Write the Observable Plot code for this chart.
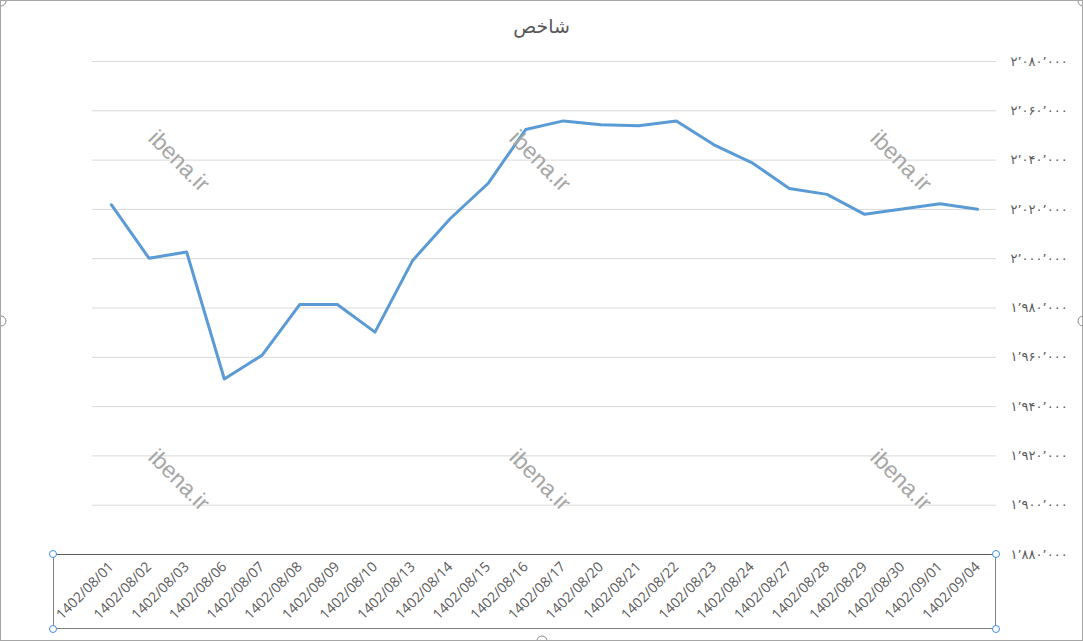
<!DOCTYPE html>
<html>
<head>
<meta charset="utf-8">
<script src="https://cdn.jsdelivr.net/npm/d3@7"></script>
<script src="https://cdn.jsdelivr.net/npm/@observablehq/plot@0.6"></script>
<style>
  html, body { margin: 0; padding: 0; background: #fff; }
  #wrap { position: relative; width: 1083px; height: 641px; box-sizing: border-box; border: 1px solid #a6a6a6; overflow: hidden; font-family: "Open Sans", "DejaVu Sans", sans-serif; }
  #title { height: 45px; line-height: 50px; text-align: center; font-size: 19px; color: #595959; font-family: "DejaVu Sans", "Noto Sans", sans-serif; }
  #chart { position: absolute; left: 0; top: 45px; }
  .wm { position: absolute; font-family: "Liberation Sans", Arial, sans-serif; font-size: 23px; color: #a6a6a6; transform: translate(-50%, -50%) rotate(45deg); white-space: nowrap; }
  #axisbox { position: absolute; left: 52px; top: 553px; width: 943px; height: 75px; border: 1px solid #7f7f7f; border-top-color: #595959; box-sizing: border-box; pointer-events: none; }
  .h { position: absolute; width: 6px; height: 6px; border: 1px solid #3d8ee5; border-radius: 50%; background: #fff; transform: translate(-50%, -50%); }
  .g { position: absolute; width: 9px; height: 9px; border: 1px solid #8c8c8c; border-radius: 50%; background: #fff; transform: translate(-50%, -50%); }
</style>
</head>
<body>
<div id="wrap">
  <div id="title">شاخص</div>
  <div id="chart"></div>
</div>
<script>
const dates = ["1402/08/01","1402/08/02","1402/08/03","1402/08/06","1402/08/07","1402/08/08","1402/08/09","1402/08/10","1402/08/13","1402/08/14","1402/08/15","1402/08/16","1402/08/17","1402/08/20","1402/08/21","1402/08/22","1402/08/23","1402/08/24","1402/08/27","1402/08/28","1402/08/29","1402/08/30","1402/09/01","1402/09/04"];
const values = [2021900,2000200,2002700,1951200,1960800,1981400,1981400,1970200,1999300,2016300,2030500,2052400,2055900,2054300,2053900,2055900,2046200,2039000,2028500,2026100,2018000,2020200,2022300,2020100];
const yTicks = [1880000,1900000,1920000,1940000,1960000,1980000,2000000,2020000,2040000,2060000,2080000];
const watermark = "ibena.ir";

const faDigits = "۰۱۲۳۴۵۶۷۸۹";
const faFormat = v => d3.format(",")(v).replace(/[0-9]/g, d => faDigits[+d]).replace(/,/g, "٬");

const data = dates.map((d, i) => ({date: d, value: values[i]}));

const chart = Plot.plot({
  width: 1081,
  height: 594,
  marginLeft: 91,
  marginRight: 86,
  marginTop: 15,
  marginBottom: 86,
  style: {fontFamily: "'Open Sans', 'DejaVu Sans', sans-serif", fontSize: "13px", color: "#595959", background: "#fff"},
  x: {type: "point", domain: dates, padding: 0.5, round: false},
  y: {domain: [1880000, 2080000]},
  marks: [
    Plot.gridY(yTicks, {stroke: "#d9d9d9", strokeOpacity: 1}),
    Plot.axisY(yTicks, {anchor: "right", tickSize: 0, tickPadding: 14, tickFormat: faFormat, fill: "#595959", fontSize: 13, textAnchor: "start", label: null}),
    Plot.axisX({tickSize: 0, tickRotate: -45, tickPadding: 10, fill: "#595959", fontSize: 14, label: null}),
    Plot.line(data, {x: "date", y: "value", stroke: "#5b9bd5", strokeWidth: 3, strokeLinejoin: "round", strokeLinecap: "round"})
  ]
});
document.getElementById("chart").appendChild(chart);

const wrap = document.getElementById("wrap");
const wmPos = [[178,160],[539,160],[900,160],[178,479],[539,479],[900,479]];
for (const [x, y] of wmPos) {
  const d = document.createElement("div");
  d.className = "wm"; d.textContent = watermark;
  d.style.left = x + "px"; d.style.top = y + "px";
  wrap.appendChild(d);
}
const box = document.createElement("div"); box.id = "axisbox"; wrap.appendChild(box);
for (const [x, y] of [[52,553],[995,553],[52,628],[995,628]]) {
  const h = document.createElement("div"); h.className = "h";
  h.style.left = x + "px"; h.style.top = y + "px"; wrap.appendChild(h);
}
for (const [x, y] of [[0,320],[1082,320],[541,640],[0,0],[1082,0]]) {
  const g = document.createElement("div"); g.className = "g";
  g.style.left = x + "px"; g.style.top = y + "px"; wrap.appendChild(g);
}
</script>
</body>
</html>
